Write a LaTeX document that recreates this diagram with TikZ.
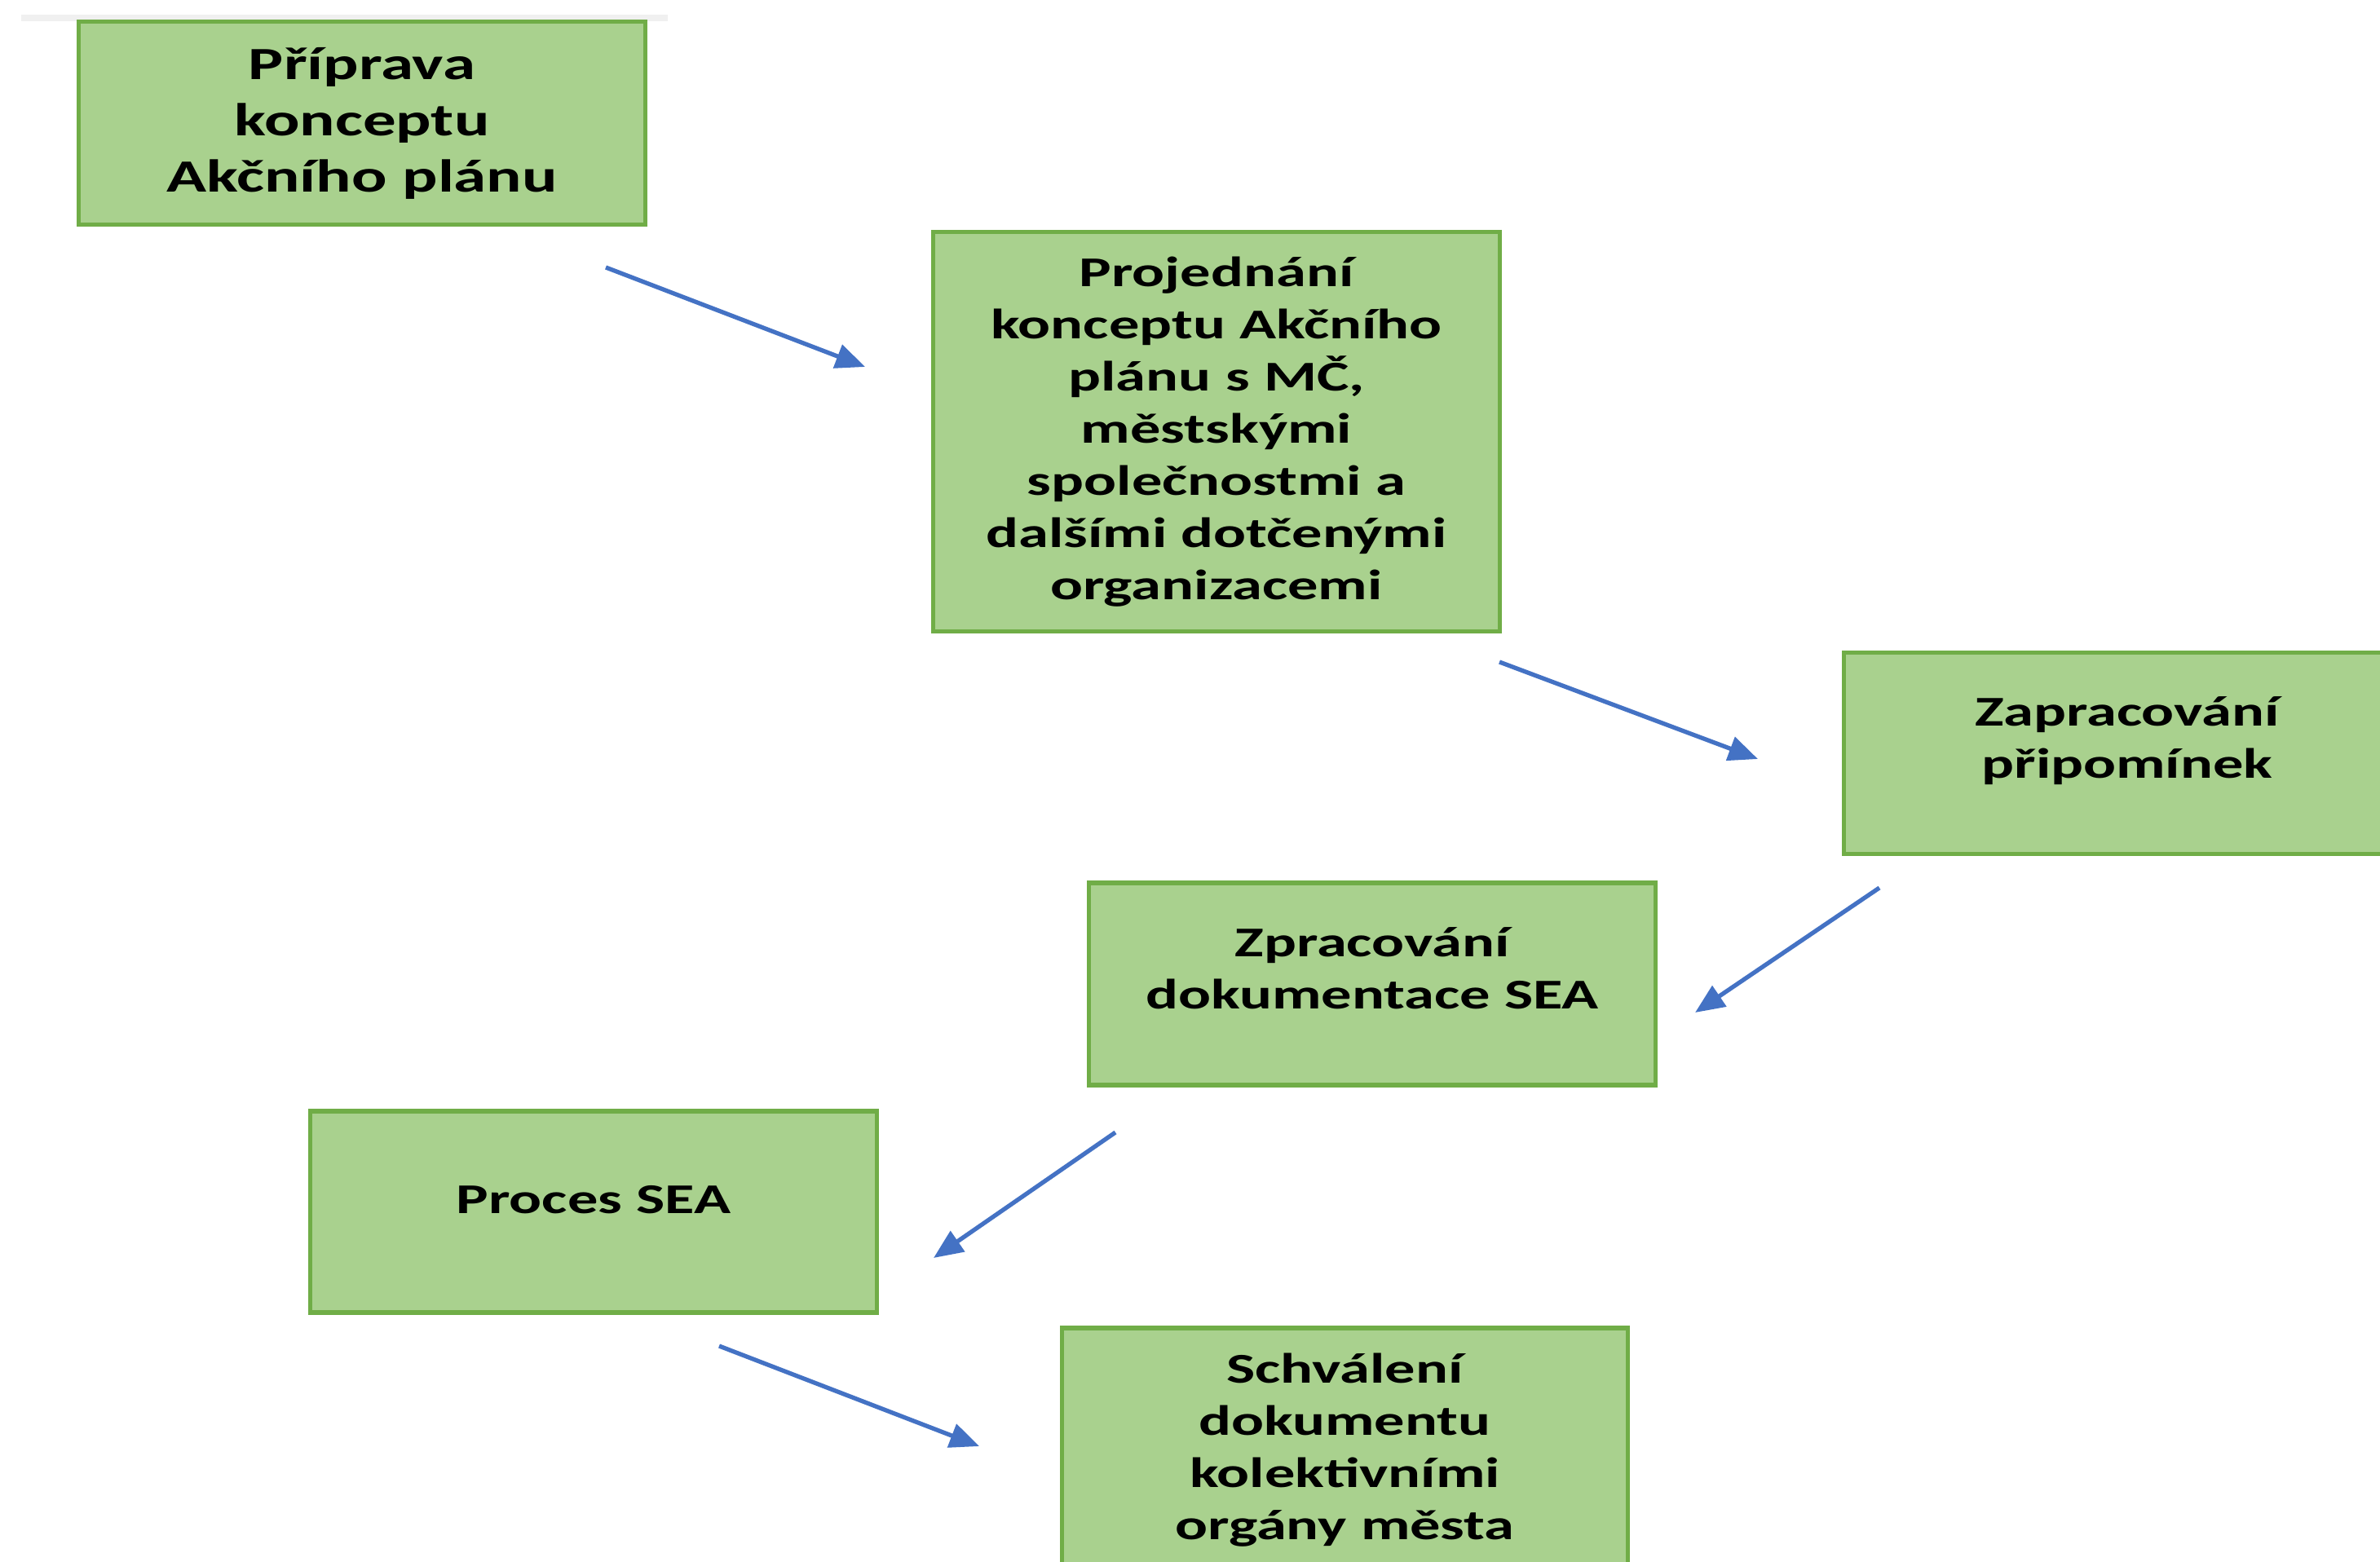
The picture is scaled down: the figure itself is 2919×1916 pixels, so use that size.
\documentclass[tikz,border=0pt]{standalone}
\usepackage{fontspec}
\setmainfont[FakeStretch=1.43]{Carlito}
\usetikzlibrary{arrows.meta}
\definecolor{boxfill}{HTML}{A9D18E}
\definecolor{boxline}{HTML}{70AD47}
\definecolor{arrowblue}{HTML}{4472C4}
\newcommand\sink[1]{\rule[-#1]{0pt}{0pt}}

\begin{document}
\begin{tikzpicture}[x=0.01cm, y=-0.01cm,
	box/.style={draw=boxline, fill=boxfill, line width=1.5pt, minimum width=6.94cm,
		text width=6.6cm, align=center, font=\bfseries\fontsize{14.8}{18.2}\selectfont},
	flow/.style={draw=arrowblue, line width=1.5pt, -{Triangle[length=0.36cm, width=0.3cm]}}]
		%%%%% START %%%%%
		
		\fill[white] (0, 0) rectangle (2919, 1916);
		\useasboundingbox (0, 0) rectangle (2919, 1916);
		\clip (0, 0) rectangle (2919, 1916);
		
		\draw[black!6, line width=2pt] (26, 22) -- (819, 22);
		
		\node[box, minimum height=2.495cm, font=\bfseries\fontsize{16.1}{19.6}\selectfont] (prip) at (444, 151) {Příprava\\konceptu\\Akčního plánu};
		\node[box, minimum height=4.89cm] (proj) at (1492, 529.5) {Projednání\\konceptu Akčního\\plánu s MČ,\\městskými\\společnostmi a\\dalšími dotčenými\\organizacemi};
		\node[box, minimum height=2.475cm] (zapr) at (2609, 924) {Zapracování\\připomínek\sink{0.38cm}};
		\node[box, minimum height=2.48cm] (zprac) at (1683, 1207) {Zpracování\\dokumentace SEA\sink{0.38cm}};
		\node[box, minimum height=2.47cm] (proc) at (728, 1486.5) {Proces SEA\sink{0.3cm}};
		\node[box, minimum height=3.0cm] (schv) at (1649.5, 1779) {Schválení\\dokumentu\\kolektivními\\orgány města};
		
		\coordinate (a1) at (743, 328);   \coordinate (b1) at (1061, 450);
		\coordinate (a2) at (1839, 812);  \coordinate (b2) at (2156, 931);
		\coordinate (a3) at (2305, 1089); \coordinate (b3) at (2079, 1242);
		\coordinate (a4) at (1368, 1389); \coordinate (b4) at (1145, 1543);
		\coordinate (a5) at (882, 1651);  \coordinate (b5) at (1201, 1774);
		
		\draw[flow] (a1) -- (b1);
		\draw[flow] (a2) -- (b2);
		\draw[flow] (a3) -- (b3);
		\draw[flow] (a4) -- (b4);
		\draw[flow] (a5) -- (b5);
		
		%%%%% END %%%%%
\end{tikzpicture}
\end{document}
